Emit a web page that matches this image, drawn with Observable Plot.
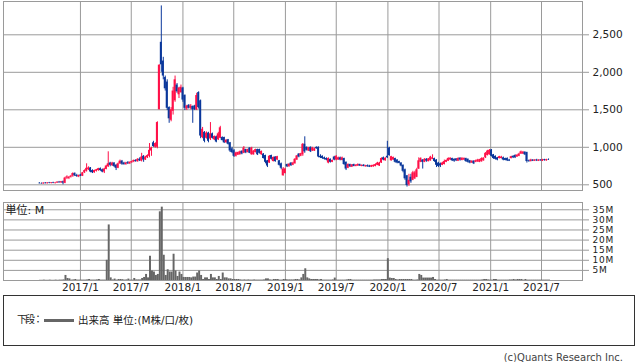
<!DOCTYPE html>
<html><head><meta charset="utf-8">
<script src="https://cdn.jsdelivr.net/npm/d3@7"></script>
<script src="https://cdn.jsdelivr.net/npm/@observablehq/plot@0.6"></script>
<style>
html,body{margin:0;padding:0;background:#fff;}
#wrap{position:relative;width:638px;height:362px;overflow:hidden;font-family:"DejaVu Sans","Noto Sans CJK JP",sans-serif;color:#222;background:#fff;}
#price,#vol{position:absolute;left:0;}
#price{top:0;}
#vol{top:191px;}
#legend{position:absolute;left:3px;top:295px;width:630px;height:49px;border:1px solid #333;font-size:10.5px;}
#legend .t1{position:absolute;left:13px;top:17px;line-height:14px;white-space:nowrap;font-size:10px;letter-spacing:-2px;}
#legend .ln{position:absolute;left:40px;top:23px;width:30px;height:3px;background:#666;}
#legend .t2{position:absolute;left:74px;top:17px;line-height:14px;white-space:nowrap;}
#copy{position:absolute;right:15px;top:352px;font-size:10px;line-height:12px;color:#444;white-space:nowrap;}
#vol g[aria-label="y-axis tick label"] text{letter-spacing:0.8px;}
svg{display:block;}
</style>
</head><body>
<div id="wrap">
  <div id="price"></div>
  <div id="vol"></div>
  <div id="legend"><span class="t1">下段：</span><span class="ln"></span><span class="t2">出来高 単位:(M株/口/枚)</span></div>
  <div id="copy">(c)Quants Research Inc.</div>
</div>
<script>
// weekly bars starting week of 2016-08-08
const startWeek = "2016-08-08";
const openP = [520,515,512,522,515,524,518,526,518,524,535,526,540,
520,590,585,600,615,650,625,605,
630,615,660,680,700,725,690,660,680,690,
715,700,670,705,740,790,755,790,760,720,
780,815,790,770,795,780,795,805,825,810,
840,815,880,830,860,880,950,1060,1000,1000,
1500,2400,2150,1930,1870,1530,1360,1480,1620,1830,
1700,1730,1790,1690,1510,1560,1520,1545,1550,1500,
1730,1620,1130,1200,1120,1190,1110,1180,1100,1140,
1100,1120,1130,1130,1060,1100,1060,980,955,880,
895,900,945,920,970,930,990,900,900,930,
970,970,900,910,890,820,790,890,810,870,
830,820,780,620,650,770,740,790,760,780,
830,910,880,900,1040,1000,950,1000,950,950,
1000,1000,880,880,860,850,790,840,800,870,
830,830,860,825,850,800,720,770,735,770,
745,750,770,745,760,740,755,750,735,740,
745,760,750,790,860,820,880,990,820,830,
850,830,810,790,760,700,620,500,600,560,
580,600,710,800,830,800,840,810,820,840,
850,830,790,780,760,770,800,815,830,850,
840,845,815,855,825,830,850,840,820,790,
815,800,805,800,810,820,860,890,900,965,
900,880,860,850,850,860,850,850,830,850,
880,890,870,880,910,910,935,930,820,810,
830,815,830,815,830,815,835,820,835];
const highP = [528,525,526,530,528,532,530,534,528,540,545,545,550,
600,620,610,625,660,660,640,630,
640,665,700,780,740,730,700,695,705,720,
725,710,720,760,940,800,800,795,770,790,
830,825,800,800,810,805,815,830,835,850,
860,920,890,880,900,1050,1000,1080,1060,1340,
2100,2885,2200,1950,1900,1540,1530,1800,1950,1850,
1800,1830,1800,1700,1560,1570,1570,1550,1560,1720,
1740,1630,1265,1210,1205,1200,1330,1190,1150,1150,
1200,1280,1140,1135,1100,1105,1065,1000,970,935,
935,950,955,1010,975,975,995,1000,955,975,
975,975,950,915,895,825,890,895,870,875,
880,825,790,730,720,775,780,795,800,850,
890,915,920,1050,1140,1005,1000,1005,1000,990,
1005,1005,900,885,870,860,860,845,830,880,
890,870,870,870,855,805,780,775,770,775,
770,780,775,765,770,760,765,760,760,765,
780,800,800,860,870,860,1080,1000,880,870,
855,835,815,795,765,710,625,640,640,680,
680,720,860,860,835,850,850,850,880,900,
855,835,800,790,800,830,830,860,860,855,
845,850,860,860,860,860,855,845,825,820,
820,830,840,840,860,860,930,960,970,970,
905,885,865,880,880,870,855,860,840,880,
885,900,900,920,950,945,940,935,830,840,
835,835,840,835,835,840,840,840,845];
const lowP = [512,508,508,512,510,514,512,515,510,518,522,520,500,
515,570,570,590,600,610,600,595,
610,610,650,670,690,660,650,655,670,680,
680,660,650,700,730,740,745,730,690,715,
770,760,760,760,770,770,785,795,800,800,
810,805,800,825,850,860,880,1000,990,980,
1500,2000,1900,1750,1490,1320,1340,1430,1600,1720,
1650,1720,1600,1490,1490,1510,1500,1320,1490,1490,
1510,1115,1115,1060,1110,1060,1090,1110,1090,1060,
1090,1115,1085,1050,1055,1030,930,915,865,870,
890,895,900,915,915,925,915,895,895,925,
890,910,895,845,780,730,785,830,805,800,
825,750,700,615,645,730,735,745,755,775,
825,860,875,880,920,950,945,930,945,945,
975,860,850,840,830,820,780,790,795,820,
820,825,820,820,760,690,715,730,730,740,
740,745,745,740,740,735,735,730,730,735,
740,755,745,785,820,815,850,880,815,825,
790,780,780,740,660,560,470,480,520,555,
570,595,705,795,710,795,800,805,815,835,
800,730,730,730,755,765,795,810,825,810,
800,810,810,815,820,825,800,790,780,785,
770,795,800,795,800,815,850,885,895,870,
840,830,820,845,845,820,820,810,810,845,
850,850,865,875,905,905,890,790,800,805,
810,810,810,810,815,810,815,815,825];
const closeP = [515,512,522,515,524,518,526,518,524,535,526,540,522,
590,605,600,615,650,620,610,625,
615,660,690,720,725,670,660,690,700,715,
690,670,710,750,780,760,790,745,720,780,
815,775,770,790,780,800,810,825,810,840,
820,870,830,870,890,960,990,1010,1050,1330,
2095,2100,1950,1780,1520,1380,1500,1750,1900,1740,
1790,1800,1630,1520,1550,1520,1550,1500,1500,1690,
1530,1150,1240,1080,1190,1080,1180,1120,1145,1070,
1180,1260,1090,1060,1095,1040,950,930,880,925,
930,940,910,990,925,970,920,990,950,970,
900,920,945,850,800,750,880,840,865,810,
875,760,720,710,710,740,775,755,790,840,
885,870,915,1040,940,960,995,940,990,980,
980,870,860,850,840,830,850,800,825,830,
880,860,830,860,770,710,770,740,765,745,
760,770,750,760,745,755,740,735,755,760,
770,790,790,850,830,855,860,890,875,865,
800,790,785,750,680,580,490,560,540,660,
660,700,820,850,800,840,815,845,870,860,
810,760,745,750,790,810,825,850,855,820,
815,820,850,830,855,850,810,800,790,815,
780,820,830,835,850,855,920,950,960,880,
850,840,830,875,870,830,825,820,815,875,
860,860,895,910,940,935,900,810,810,830,
815,830,820,830,820,835,825,835,830];
const volumeM = [0.1,0.1,0.2,0.1,0.1,0.2,0.1,0.1,0.2,0.1,0.2,0.2,0.3,
2.5,1.0,0.8,0.2,0.3,0.5,0.2,0.2,
0.2,0.2,0.2,0.3,0.5,0.2,0.2,0.2,0.3,0.5,
0.2,0.2,0.2,10,27.5,1.3,0.3,0.7,0.2,0.5,
0.5,0.4,0.2,0.3,0.7,0.2,0.2,1.0,0.3,0.3,
0.3,1.0,1.5,3.0,1.3,12,4.7,4.2,2.5,3.0,
34,36.3,12.5,2.5,5.3,4.2,4.2,13,4.7,2.0,
4.2,3.0,1.5,1.5,1.5,1.5,1.3,1.7,1.7,3.7,
4.7,2.5,0.5,1.3,1.3,0.5,3.0,1.3,1.3,0.5,
2.0,0.5,3.7,1.3,1.3,0.8,0.8,0.5,0.5,0.5,
0.5,0.3,0.2,0.3,0.2,0.3,0.2,0.2,0.3,0.2,
0.2,0.2,0.2,0.3,0.8,0.8,0.3,0.2,0.5,0.5,
0.5,0.2,0.2,0.5,0.5,0.3,0.3,0.3,0.3,0.5,
0.5,0.3,1.3,3.0,5.8,1.3,0.8,0.5,0.5,0.5,
0.5,0.3,0.5,0.2,0.2,0.2,0.2,0.2,0.3,1.2,
0.2,0.2,0.2,0.2,0.2,0.3,0.5,0.5,0.2,0.2,
0.2,0.2,0.2,0.2,0.2,0.2,0.2,0.2,0.2,0.3,
0.3,0.3,0.3,0.5,0.5,0.5,10.8,1.2,1.0,1.0,
0.5,0.3,0.5,0.5,0.5,0.5,0.5,0.5,0.5,0.2,
0.2,0.3,3.0,2.5,1.2,1.2,1.2,1.2,1.2,1.5,
0.5,0.2,0.2,0.2,0.2,0.3,0.5,0.2,0.2,0.2,
0.2,0.2,0.2,0.2,0.2,0.2,0.2,0.2,0.2,0.2,
0.2,0.2,0.2,0.2,0.3,0.5,0.5,0.3,0.2,0.2,
0.5,0.5,0.2,0.2,0.2,0.2,0.2,0.2,0.3,0.3,
0.5,0.3,0.5,0.5,0.5,0.2,0.5,0.2,0.2,0.2,
0.2,0.2,0.2,0.2,0.2,0.2,0.2,0.2,0.2];
const priceTicks = [500,1000,1500,2000,2500];
const volumeTicks = [5,10,15,20,25,30,35];
const gridDateLabels = ["2017-01-01","2017-07-01","2018-01-01","2018-07-01","2019-01-01","2019-07-01","2020-01-01","2020-07-01","2021-01-01","2021-07-01"];
const xDomain = ["2016-04-02","2021-11-24"];

const DAY = 864e5;
const t0 = new Date(startWeek + "T00:00:00Z").getTime();
const gridDates = gridDateLabels.map(s => new Date(s + "T00:00:00Z"));
const xd = xDomain.map(s => new Date(s + "T00:00:00Z"));
const rows = openP.map((o, i) => {
  const t = t0 + i * 7 * DAY;
  return {
    date: new Date(t), left: new Date(t - 3.5 * DAY), right: new Date(t + 3.5 * DAY),
    vLeft: new Date(t), vRight: new Date(t + 7 * DAY),
    open: o, high: highP[i], low: lowP[i], close: closeP[i], vol: volumeM[i]
  };
});
const RED = "#ff1048", BLUE = "#0a379b", GRID = "#9a9a9a";
const col = d => d.close >= d.open ? RED : BLUE;
const FONT = '"DejaVu Sans","Noto Sans CJK JP",sans-serif';

const price = Plot.plot({
  width: 638, height: 191,
  marginLeft: 3, marginRight: 56, marginTop: 1, marginBottom: 1,
  x: {type: "utc", domain: xd, axis: null},
  y: {domain: [424, 2944]},
  style: {fontFamily: FONT, fontSize: "10.5px", color: "#222", background: "white", overflow: "visible"},
  marks: [
    Plot.ruleX(gridDates, {x: d => d, stroke: GRID}),
    Plot.ruleY(priceTicks, {y: d => d, stroke: GRID}),
    Plot.frame({stroke: GRID}),
    Plot.axisY({anchor: "right", ticks: priceTicks, tickSize: 6, tickPadding: 4, stroke: GRID, fill: "#222", tickFormat: d3.format(","), label: null}),
    Plot.ruleX(rows, {x: "date", y1: "low", y2: "high", stroke: col, strokeWidth: 1}),
    Plot.rectY(rows, {x1: "left", x2: "right", y1: "open", y2: "close", fill: col})
  ]
});
document.getElementById("price").appendChild(price);

const vol = Plot.plot({
  width: 638, height: 104,
  marginLeft: 3, marginRight: 56, marginTop: 11, marginBottom: 15,
  x: {type: "utc", domain: xd},
  y: {domain: [0, 38.6]},
  style: {fontFamily: FONT, fontSize: "10.5px", color: "#222", background: "white", overflow: "visible"},
  marks: [
    Plot.ruleX(gridDates, {x: d => d, stroke: GRID}),
    Plot.ruleY(volumeTicks, {y: d => d, stroke: GRID}),
    Plot.frame({stroke: GRID}),
    Plot.axisY({anchor: "right", ticks: volumeTicks, tickSize: 6, tickPadding: 4, stroke: GRID, fill: "#222", fontSize: 9, tickFormat: d => d + "M", label: null}),
    Plot.axisX({anchor: "bottom", ticks: gridDates, tickSize: 0, tickPadding: 3, fill: "#222", tickFormat: d => `${d.getUTCFullYear()}/${d.getUTCMonth() + 1}`, label: null}),
    Plot.rectY(rows, {x1: "vLeft", x2: "vRight", y: "vol", fill: "#666"}),
    Plot.text(["単位: M"], {frameAnchor: "top-left", dx: 2, dy: 8, textAnchor: "start", lineAnchor: "middle", fontSize: 11, fill: "#222"})
  ]
});
document.getElementById("vol").appendChild(vol);
</script>
</body></html>
